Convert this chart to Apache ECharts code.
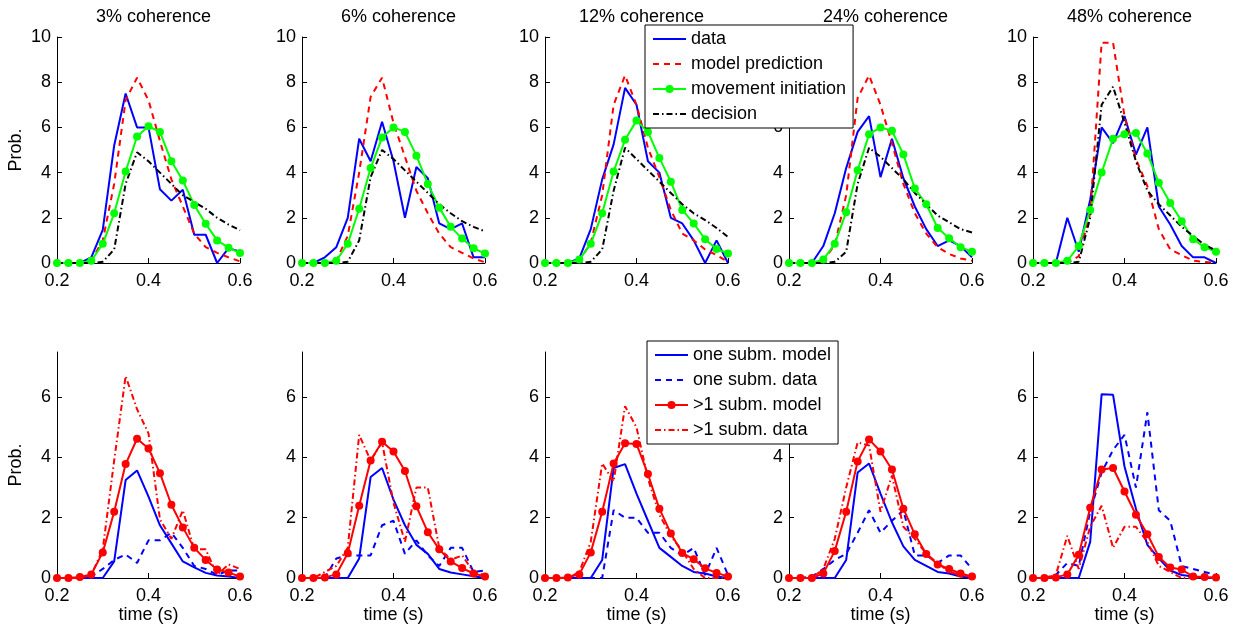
<!DOCTYPE html>
<html>
<head>
<meta charset="utf-8">
<script src="https://cdn.jsdelivr.net/npm/echarts@6/dist/echarts.min.js"></script>
<style>
html, body { margin: 0; padding: 0; background: #fff; }
#main { width: 1236px; height: 627px; }
</style>
</head>
<body>
<div id="main"></div>
<script>
// time bins (s)
var times = [0.2, 0.225, 0.25, 0.275, 0.3, 0.325, 0.35, 0.375, 0.4, 0.425, 0.45, 0.475, 0.5, 0.525, 0.55, 0.575, 0.6];
var titles = ['3% coherence', '6% coherence', '12% coherence', '24% coherence', '48% coherence'];

// top row: one row per coherence
var obsData = [
    [0, 0, 0, 0.25, 1.47, 5.2, 7.5, 6.0, 6.0, 3.26, 2.76, 3.24, 1.25, 1.25, 0, 0.66, 0.5],
    [0, 0, 0.25, 0.7, 2.0, 5.5, 4.5, 6.25, 4.5, 2.0, 4.25, 3.75, 1.75, 1.5, 1.75, 0.25, 0.25],
    [0, 0, 0, 0.2, 1.5, 3.7, 5.25, 7.75, 7.0, 4.5, 4.0, 2.0, 1.75, 1.0, 0, 1.0, 0],
    [0, 0, 0, 0.75, 2.2, 4.2, 5.8, 6.5, 3.8, 5.5, 3.75, 2.5, 1.5, 0.75, 1.0, 0.75, 0.25],
    [0, 0, 0, 2.0, 0.5, 2.8, 6.0, 5.3, 6.5, 4.8, 6.0, 2.5, 1.7, 0.75, 0.25, 0.25, 0]
];
var modelPred = [
    [0, 0, 0, 0.1, 1.0, 3.5, 7.2, 8.2, 7.2, 5.4, 3.7, 2.5, 1.3, 0.7, 0.45, 0.25, 0.07],
    [0, 0, 0, 0.1, 1.2, 4.0, 7.35, 8.2, 6.2, 4.7, 3.2, 2.2, 1.3, 0.7, 0.45, 0.2, 0.03],
    [0, 0, 0, 0.1, 0.9, 3.0, 7.0, 8.3, 7.0, 5.1, 3.8, 2.35, 1.3, 1.0, 0.6, 0.35, 0.05],
    [0, 0, 0, 0.1, 0.8, 3.0, 7.3, 8.3, 7.0, 5.3, 3.5, 2.2, 1.3, 0.7, 0.4, 0.2, 0.1],
    [0, 0, 0, 0, 0.3, 2.2, 9.75, 9.75, 6.5, 4.6, 3.4, 1.5, 0.6, 0.35, 0.1, 0.05, 0]
];
var moveInit = [
    [0, 0, 0, 0.1, 0.85, 2.2, 4.05, 5.6, 6.05, 5.8, 4.5, 3.65, 2.57, 1.74, 1.0, 0.68, 0.44],
    [0, 0, 0, 0.1, 0.85, 2.4, 4.2, 5.55, 6.0, 5.8, 4.75, 3.5, 2.45, 1.6, 1.08, 0.65, 0.42],
    [0, 0, 0, 0.15, 0.85, 2.2, 4.05, 5.45, 6.3, 5.8, 4.65, 3.6, 2.35, 1.75, 1.05, 0.62, 0.42],
    [0, 0, 0, 0.15, 0.85, 2.25, 4.1, 5.7, 6.0, 5.85, 4.8, 3.3, 2.6, 1.55, 1.1, 0.7, 0.5],
    [0, 0, 0, 0.1, 0.75, 2.35, 4.0, 5.5, 5.7, 5.75, 4.85, 3.55, 2.65, 1.85, 1.05, 0.7, 0.5]
];
var decision = [
    [0, 0, 0, 0, 0.05, 0.6, 3.5, 4.9, 4.5, 4.0, 3.5, 3.0, 2.7, 2.4, 2.0, 1.7, 1.45],
    [0, 0, 0, 0, 0.05, 1.0, 3.8, 5.0, 4.6, 4.1, 3.6, 3.1, 2.6, 2.2, 1.85, 1.6, 1.4],
    [0, 0, 0, 0, 0.05, 0.6, 3.2, 5.1, 4.6, 4.1, 3.6, 3.1, 2.6, 2.2, 1.9, 1.55, 1.15],
    [0, 0, 0, 0, 0.05, 0.5, 3.5, 5.1, 4.7, 4.2, 3.7, 3.1, 2.6, 2.1, 1.8, 1.5, 1.35],
    [0, 0, 0, 0, 0.05, 2.0, 7.0, 7.8, 6.2, 4.5, 3.2, 2.6, 2.1, 1.6, 1.2, 0.8, 0.55]
];

// bottom row
var oneModel = [
    [0, 0, 0, 0, 0, 0.55, 3.25, 3.57, 2.7, 1.75, 1.15, 0.55, 0.35, 0.17, 0.08, 0.05, 0],
    [0, 0, 0, 0, 0, 0.65, 3.35, 3.65, 2.6, 1.75, 1.1, 0.8, 0.3, 0.18, 0.12, 0.06, 0],
    [0, 0, 0, 0, 0, 0.6, 3.65, 3.78, 2.8, 1.9, 1.0, 0.7, 0.4, 0.2, 0.15, 0.05, 0],
    [0, 0, 0, 0, 0, 0.6, 3.5, 3.8, 2.8, 1.85, 1.05, 0.6, 0.4, 0.2, 0.15, 0.05, 0],
    [0, 0, 0, 0, 0, 1.2, 6.1, 6.08, 3.7, 2.3, 1.1, 0.65, 0.25, 0.1, 0.05, 0, 0]
];
var oneData = [
    [0, 0, 0, 0.05, 0.3, 0.6, 0.78, 0.5, 1.25, 1.25, 1.5, 1.0, 0.4, 0.3, 0.1, 0.25, 0.25],
    [0, 0, 0, 0.65, 0.75, 0.75, 0.75, 1.75, 1.9, 0.8, 1.25, 0.75, 0.4, 1.0, 1.0, 0.2, 0.25],
    [0, 0, 0, 0, 0, 0, 2.25, 2.0, 2.0, 1.5, 1.5, 1.0, 0.75, 1.0, 0.1, 1.0, 0.1],
    [0, 0, 0.05, 0.3, 0.6, 0.8, 1.5, 2.25, 1.5, 1.9, 2.25, 0.75, 0.75, 0.5, 0.75, 0.75, 0.3],
    [0, 0, 0.1, 0.5, 0.4, 2.2, 3.5, 4.25, 4.75, 3.0, 5.5, 2.25, 1.9, 0.4, 0.3, 0.2, 0.1]
];
var multiModel = [
    [0, 0, 0.03, 0.12, 0.85, 2.2, 3.78, 4.62, 4.3, 3.48, 2.43, 1.68, 1.0, 0.6, 0.28, 0.18, 0.05],
    [0, 0, 0.02, 0.12, 0.82, 2.4, 3.9, 4.52, 4.2, 3.55, 2.38, 1.52, 0.95, 0.55, 0.33, 0.15, 0.05],
    [0, 0, 0.02, 0.12, 0.85, 2.2, 3.8, 4.47, 4.45, 3.45, 2.3, 1.48, 0.83, 0.62, 0.32, 0.17, 0.05],
    [0, 0, 0, 0.15, 0.9, 2.2, 3.87, 4.6, 4.2, 3.6, 2.3, 1.45, 0.8, 0.45, 0.3, 0.15, 0.05],
    [0, 0, 0.02, 0.12, 0.77, 2.33, 3.6, 3.65, 2.87, 2.1, 1.45, 0.7, 0.35, 0.28, 0.05, 0.03, 0.02]
];
var multiData = [
    [0, 0, 0, 0.1, 0.95, 3.9, 6.7, 5.6, 4.8, 1.95, 1.3, 2.25, 0.95, 0.95, 0.1, 0.45, 0.3],
    [0, 0, 0.2, 0.4, 1.0, 4.75, 3.9, 4.5, 2.5, 1.2, 3.0, 3.0, 1.0, 0.6, 0.75, 0.2, 0.1],
    [0, 0, 0, 0.2, 1.2, 3.8, 3.2, 5.7, 5.0, 3.3, 2.1, 1.4, 0.9, 0.3, 0, 0, 0],
    [0, 0, 0, 0.3, 1.3, 3.0, 4.5, 4.4, 2.2, 3.4, 1.7, 1.3, 0.8, 0.5, 0.2, 0.1, 0.05],
    [0, 0, 0.1, 1.4, 0.3, 1.7, 2.4, 1.0, 1.7, 1.7, 1.2, 0.4, 0.2, 0, 0, 0, 0]
];

var font = 'Liberation Sans, Arial, Helvetica, sans-serif';
var lefts = [57, 302, 545, 789, 1033];
var gw = 183;

function pairs(vals) {
    return times.map(function (t, i) { return [t, vals[i]]; });
}

var grids = [], xAxes = [], yAxes = [], series = [], titleList = [];

for (var row = 0; row < 2; row++) {
    for (var c = 0; c < 5; c++) {
        var idx = row * 5 + c;
        grids.push({ left: lefts[c], top: row == 0 ? 37 : 352, width: gw, height: 226 });
        xAxes.push({
            type: 'value', gridIndex: idx, min: 0.2, max: 0.6, interval: 0.2,
            name: row == 1 ? 'time (s)' : '', nameLocation: 'middle', nameGap: 27,
            nameTextStyle: { color: '#000', fontSize: 18, fontFamily: font },
            axisLine: { show: true, onZero: false, lineStyle: { color: '#000', width: 1 } },
            axisTick: { show: true, inside: true, length: 5, lineStyle: { color: '#000' } },
            axisLabel: { color: '#000', fontSize: 18, fontFamily: font, margin: 9,
                formatter: function (v) { return v.toFixed(1); } },
            splitLine: { show: false }
        });
        yAxes.push({
            type: 'value', gridIndex: idx, min: 0, max: row == 0 ? 10 : 7.5, interval: 2,
            name: c == 0 ? 'Prob.' : '', nameLocation: 'middle', nameGap: 32,
            nameTextStyle: { color: '#000', fontSize: 18, fontFamily: font },
            axisLine: { show: true, lineStyle: { color: '#000', width: 1 } },
            axisTick: { show: true, inside: true, length: 5, lineStyle: { color: '#000' } },
            axisLabel: { color: '#000', fontSize: 18, fontFamily: font, margin: 6, showMaxLabel: row == 0 },
            splitLine: { show: false }
        });
        if (row == 0) {
            titleList.push({
                text: titles[c], left: lefts[c] + gw / 2, top: 3, textAlign: 'center',
                textStyle: { color: '#000', fontSize: 18, fontWeight: 'normal', fontFamily: font }
            });
            series.push(
                { name: 'data', type: 'line', xAxisIndex: idx, yAxisIndex: idx, symbol: 'none',
                  lineStyle: { color: '#0000ff', width: 2 }, itemStyle: { color: '#0000ff' }, data: pairs(obsData[c]) },
                { name: 'model prediction', type: 'line', xAxisIndex: idx, yAxisIndex: idx, symbol: 'none',
                  lineStyle: { color: '#ff0000', width: 2, type: [6, 5] }, itemStyle: { color: '#ff0000' }, data: pairs(modelPred[c]) },
                { name: 'movement initiation', type: 'line', xAxisIndex: idx, yAxisIndex: idx, symbol: 'circle', symbolSize: 8,
                  lineStyle: { color: '#00ff00', width: 2 }, itemStyle: { color: '#00ff00' }, data: pairs(moveInit[c]) },
                { name: 'decision', type: 'line', xAxisIndex: idx, yAxisIndex: idx, symbol: 'none',
                  lineStyle: { color: '#000', width: 2, type: [6, 3, 1.5, 3] }, itemStyle: { color: '#000' }, data: pairs(decision[c]) }
            );
        } else {
            series.push(
                { name: 'one subm. model', type: 'line', xAxisIndex: idx, yAxisIndex: idx, symbol: 'none',
                  lineStyle: { color: '#0000ff', width: 2 }, itemStyle: { color: '#0000ff' }, data: pairs(oneModel[c]) },
                { name: 'one subm. data', type: 'line', xAxisIndex: idx, yAxisIndex: idx, symbol: 'none',
                  lineStyle: { color: '#0000ff', width: 2, type: [6, 5] }, itemStyle: { color: '#0000ff' }, data: pairs(oneData[c]) },
                { name: '>1 subm. model', type: 'line', xAxisIndex: idx, yAxisIndex: idx, symbol: 'circle', symbolSize: 8,
                  lineStyle: { color: '#ff0000', width: 2 }, itemStyle: { color: '#ff0000' }, data: pairs(multiModel[c]) },
                { name: '>1 subm. data', type: 'line', xAxisIndex: idx, yAxisIndex: idx, symbol: 'none',
                  lineStyle: { color: '#ff0000', width: 2, type: [6, 3, 1.5, 3] }, itemStyle: { color: '#ff0000' }, data: pairs(multiData[c]) }
            );
        }
    }
}

// legend entries: only the marker series show a dot
function entry(name, dot) {
    return dot ? { name: name } : { name: name, itemStyle: { opacity: 0 } };
}

var legendBase = {
    orient: 'vertical', backgroundColor: '#fff', borderColor: '#000', borderWidth: 1,
    padding: [5, 7], itemGap: 7, itemWidth: 33, itemHeight: 10, z: 10,
    textStyle: { color: '#000', fontSize: 18, fontFamily: font }
};

var chart = echarts.init(document.getElementById('main'));
chart.setOption({
    animation: false,
    textStyle: { fontFamily: font },
    title: titleList,
    legend: [
        Object.assign({}, legendBase, { left: 645, top: 25,
            data: [entry('data'), entry('model prediction'), entry('movement initiation', true), entry('decision')] }),
        Object.assign({}, legendBase, { left: 647, top: 341,
            data: [entry('one subm. model'), entry('one subm. data'), entry('>1 subm. model', true), entry('>1 subm. data')] })
    ],
    grid: grids,
    xAxis: xAxes,
    yAxis: yAxes,
    series: series
});
</script>
</body>
</html>
